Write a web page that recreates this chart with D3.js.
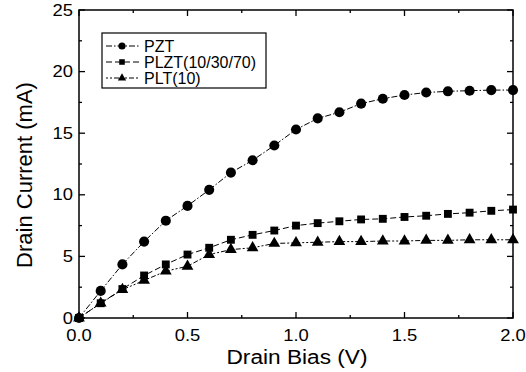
<!DOCTYPE html>
<html><head><meta charset="utf-8">
<script src="https://cdn.jsdelivr.net/npm/d3@7"></script>
<style>body{margin:0;background:#fff}svg{display:block}text{font-family:"Liberation Sans",Arial,sans-serif;fill:#000}</style>
</head><body><svg id="c" width="526" height="372"></svg>
<script>
const bias = [0,0.1,0.2,0.3,0.4,0.5,0.6,0.7,0.8,0.9,1.0,1.1,1.2,1.3,1.4,1.5,1.6,1.7,1.8,1.9,2.0];
const pzt  = [0,2.2,4.35,6.2,7.9,9.1,10.4,11.8,12.8,14.0,15.3,16.2,16.7,17.4,17.8,18.1,18.3,18.4,18.45,18.5,18.5];
const plzt = [0,1.2,2.35,3.45,4.35,5.15,5.7,6.35,6.75,7.1,7.5,7.7,7.85,8.0,8.05,8.2,8.3,8.45,8.55,8.7,8.8];
const plt  = [0,1.2,2.3,3.05,3.8,4.2,5.15,5.55,5.7,6.05,6.1,6.15,6.2,6.2,6.25,6.25,6.3,6.3,6.35,6.35,6.35];
const seriesNames = ["PZT","PLZT(10/30/70)","PLT(10)"];
const xTicks = [0,0.5,1.0,1.5,2.0];
const yTicks = [0,5,10,15,20,25];

const svg = d3.select("#c");
const L=79,R=513,T=10,B=318;
const x = d3.scaleLinear().domain([0,2]).range([L,R]);
const y = d3.scaleLinear().domain([0,25]).range([B,T]);

// frame
svg.append("rect").attr("x",L).attr("y",T).attr("width",R-L).attr("height",B-T)
  .attr("fill","none").attr("stroke","#000").attr("stroke-width",1.5);

// ticks (inside, mirrored)
const minorX = d3.range(0,2.001,0.25), minorY = d3.range(0,25.001,2.5);
const tg = svg.append("g").attr("stroke","#000").attr("stroke-width",1.3);
minorX.forEach(v=>{const len = (Math.abs(v*2-Math.round(v*2))<1e-6)?6:3;
  tg.append("line").attr("x1",x(v)).attr("x2",x(v)).attr("y1",B).attr("y2",B-len);
  tg.append("line").attr("x1",x(v)).attr("x2",x(v)).attr("y1",T).attr("y2",T+len);});
minorY.forEach(v=>{const len = (Math.abs(v/5-Math.round(v/5))<1e-6)?6:3;
  tg.append("line").attr("y1",y(v)).attr("y2",y(v)).attr("x1",L).attr("x2",L+len);
  tg.append("line").attr("y1",y(v)).attr("y2",y(v)).attr("x1",R).attr("x2",R-len);});

// tick labels
xTicks.forEach(v=>svg.append("text").attr("transform",`translate(${x(v)},341) scale(1.15,1)`).attr("text-anchor","middle")
  .attr("font-size",16).text(v.toFixed(1)));
yTicks.forEach(v=>svg.append("text").attr("transform",`translate(${L-6},${y(v)+5.5}) scale(1.15,1)`).attr("text-anchor","end")
  .attr("font-size",16).text(v));

// axis titles
svg.append("text").attr("transform","translate(297,364) scale(1.08,1)").attr("text-anchor","middle").attr("font-size",21).text("Drain Bias (V)");
svg.append("text").attr("transform",`translate(32,175) rotate(-90)`).attr("text-anchor","middle").attr("font-size",22).text("Drain Current (mA)");

const styles = [
  {data:pzt, dash:"6,2,1.5,2", sym:d3.symbolCircle, size:80},
  {data:plzt, dash:"6,3", sym:d3.symbolSquare, size:62},
  {data:plt, dash:"2,2,2,2,5,2", sym:d3.symbolTriangle, size:60}
];
const line = d3.line().x((d,i)=>x(bias[i])).y(d=>y(d));
styles.forEach(s=>{
  svg.append("path").attr("d",line(s.data)).attr("fill","none").attr("stroke","#000")
    .attr("stroke-width",1).attr("stroke-dasharray",s.dash);
  svg.append("g").selectAll("path").data(s.data).join("path")
    .attr("transform",(d,i)=>`translate(${x(bias[i])},${y(d)})`)
    .attr("d",d3.symbol().type(s.sym).size(s.size)).attr("fill","#000");
});

// legend
svg.append("rect").attr("x",102).attr("y",33).attr("width",164).attr("height",55)
  .attr("fill","#fff").attr("stroke","#000").attr("stroke-width",1.2);
styles.forEach((s,i)=>{
  const yy = 46+i*16;
  svg.append("line").attr("x1",106).attr("x2",140).attr("y1",yy).attr("y2",yy)
    .attr("stroke","#000").attr("stroke-width",1).attr("stroke-dasharray",s.dash);
  svg.append("path").attr("transform",`translate(122,${yy})`)
    .attr("d",d3.symbol().type(s.sym).size(s.size*0.5)).attr("fill","#000");
  svg.append("text").attr("x",144).attr("y",yy+5.5).attr("font-size",16).text(seriesNames[i]);
});
</script></body></html>
